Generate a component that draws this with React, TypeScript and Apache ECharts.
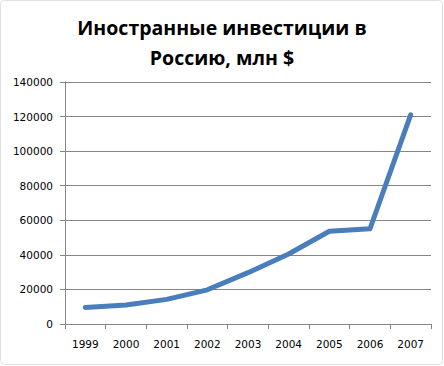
import React, { useEffect, useRef } from "react";
import * as echarts from "echarts";

const years = ["1999", "2000", "2001", "2002", "2003", "2004", "2005", "2006", "2007"];
const investments = [9560, 10958, 14258, 19780, 29699, 40509, 53651, 55109, 120941];
const titleText = "Иностранные инвестиции в\nРоссию, млн $";

export default function App() {
  const ref = useRef<HTMLDivElement>(null);
  useEffect(() => {
    if (!ref.current) return;
    const chart = echarts.init(ref.current, null, { renderer: "svg" });
    const labelFont = { fontFamily: "DejaVu Sans", fontSize: 10.5, color: "#000" };
    chart.setOption({
      animation: false,
      backgroundColor: "#fff",
      title: {
        text: titleText,
        left: "center",
        top: 7,
        textStyle: {
          fontFamily: "Open Sans",
          fontWeight: "bold",
          fontSize: 19.5,
          lineHeight: 30,
          color: "#000",
        },
      },
      grid: { left: 65, right: 13, top: 82, bottom: 42, containLabel: false },
      xAxis: {
        type: "category",
        data: years,
        boundaryGap: true,
        axisLine: { lineStyle: { color: "#868686", width: 1 } },
        axisTick: { show: true, length: 5, lineStyle: { color: "#868686" }, alignWithLabel: false },
        axisLabel: { ...labelFont, margin: 14 },
        splitLine: { show: false },
      },
      yAxis: {
        type: "value",
        min: 0,
        max: 140000,
        interval: 20000,
        axisLine: { show: true, lineStyle: { color: "#868686", width: 1 } },
        axisTick: { show: true, length: 5, lineStyle: { color: "#868686" } },
        axisLabel: { ...labelFont, margin: 12, formatter: (v: number) => String(v) },
        splitLine: { show: true, lineStyle: { color: "#868686", width: 1 } },
      },
      series: [
        {
          type: "line",
          data: investments,
          showSymbol: false,
          symbol: "none",
          lineStyle: { color: "#4a7ebb", width: 5, cap: "round", join: "round" },
        },
      ],
      graphic: [
        {
          type: "rect",
          shape: { x: 0.5, y: 0.5, width: 442, height: 364, r: 4 },
          style: { fill: "none", stroke: "#e0e0e0", lineWidth: 1 },
          silent: true,
        },
      ],
    });
    return () => chart.dispose();
  }, []);
  return (
    <div
      ref={ref}
      style={{ position: "fixed", left: 0, top: 0, width: 444, height: 366 }}
    />
  );
}
